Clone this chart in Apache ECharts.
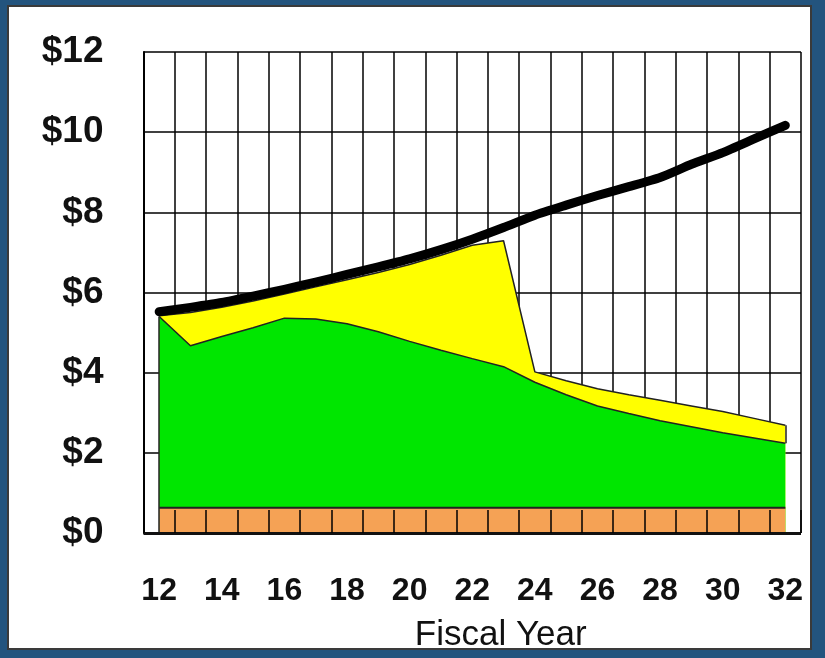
<!DOCTYPE html>
<html>
<head>
<meta charset="utf-8">
<script src="https://cdn.jsdelivr.net/npm/echarts@6/dist/echarts.min.js"></script>
<style>
  html, body { margin: 0; padding: 0; width: 825px; height: 658px; background: #23547e; overflow: hidden; }
  #frame { position: absolute; left: 7px; top: 5px; width: 801px; height: 641px; background: #fff; border: 2px solid #3a3a3a; }
  #chart { position: absolute; left: 0; top: 0; width: 825px; height: 658px; }
</style>
</head>
<body>
<div id="frame"></div>
<div id="chart"></div>
<script>
const years = ['12','13','14','15','16','17','18','19','20','21','22','23','24','25','26','27','28','29','30','31','32'];
const yTickLabels = ['$0','$2','$4','$6','$8','$10','$12'];
const blackLine = [5.52,5.63,5.75,5.91,6.08,6.26,6.45,6.64,6.84,7.07,7.33,7.62,7.93,8.18,8.42,8.64,8.87,9.2,9.49,9.83,10.17];
const yellowTop = [5.42,5.5,5.63,5.79,5.96,6.14,6.32,6.5,6.7,6.93,7.18,7.29,4.02,3.8,3.6,3.45,3.31,3.17,3.03,2.86,2.69];
const greenTop  = [5.4,4.67,4.9,5.12,5.36,5.34,5.22,5.02,4.78,4.56,4.35,4.15,3.76,3.45,3.17,2.98,2.8,2.65,2.5,2.37,2.24];
const orangeTop = [0.63,0.63,0.63,0.63,0.63,0.63,0.63,0.63,0.63,0.63,0.63,0.63,0.63,0.63,0.63,0.63,0.63,0.63,0.63,0.63,0.63];

const chart = echarts.init(document.getElementById('chart'));
const edge = { color: '#222', width: 1.5 };
const last = years.length - 1;
chart.setOption({
  backgroundColor: 'transparent',
  animation: false,
  grid: { left: 143.5, right: 24, top: 52, bottom: 123 },
  xAxis: [{
    // main axis, shifted 10px down so its ticks cross the baseline
    type: 'category', data: years, boundaryGap: true, position: 'bottom', offset: 10, z: 10,
    axisLine: { show: false },
    axisTick: { show: true, inside: true, interval: 0, length: 23, lineStyle: { color: '#000', width: 1.5 } },
    axisLabel: { interval: 1, margin: 32, fontSize: 32, fontWeight: 'bold', color: '#111',
      fontFamily: '"Liberation Sans", Arial, sans-serif' },
    splitLine: { show: false },
    name: 'Fiscal Year', nameLocation: 'middle', nameGap: 75,
    nameTextStyle: { fontSize: 35, color: '#111', fontFamily: '"Liberation Sans", Arial, sans-serif', padding: [0, 0, 0, 57] }
  }, {
    // vertical grid lines behind the areas
    type: 'category', data: years, boundaryGap: true, position: 'top', z: 0,
    axisLine: { show: false }, axisTick: { show: false }, axisLabel: { show: false },
    splitLine: { show: true, interval: 0, lineStyle: { color: '#000', width: 1.5 } }
  }],
  yAxis: {
    type: 'value', min: 0, max: 12, interval: 2,
    axisLine: { show: true, lineStyle: { color: '#000', width: 2 } },
    axisTick: { show: false },
    axisLabel: { margin: 40, fontSize: 37, fontWeight: 'bold', color: '#111',
      fontFamily: '"Liberation Sans", Arial, sans-serif',
      formatter: (v) => yTickLabels[v / 2] },
    splitLine: { show: true, lineStyle: { color: '#000', width: 1.5 } }
  },
  series: [
    { name: 'yellow', type: 'line', data: yellowTop, symbol: 'none', z: 2,
      lineStyle: edge, areaStyle: { color: '#ffff00', opacity: 1 },
      markLine: { silent: true, symbol: 'none', label: { show: false }, lineStyle: { color: '#222', width: 1.5, type: 'solid' },
        data: [[{ coord: [last, greenTop[last]] }, { coord: [last, yellowTop[last]] }]] } },
    { name: 'green', type: 'line', data: greenTop, symbol: 'none', z: 3,
      lineStyle: edge, areaStyle: { color: '#00e600', opacity: 1 },
      markLine: { silent: true, symbol: 'none', label: { show: false }, lineStyle: { color: '#222', width: 1.5, type: 'solid' },
        data: [[{ coord: [0, 0] }, { coord: [0, greenTop[0]] }]] } },
    { name: 'orange', type: 'line', data: orangeTop, symbol: 'none', z: 4,
      lineStyle: { color: '#222', width: 2 }, areaStyle: { color: '#f5a255', opacity: 1 },
      markLine: { silent: true, symbol: 'none', label: { show: false }, lineStyle: { color: '#111', width: 3, type: 'solid' },
        data: [{ yAxis: 0 }] } },
    { name: 'total', type: 'line', data: blackLine, symbol: 'none', z: 6, smooth: 0.2,
      lineStyle: { color: '#000', width: 9, cap: 'round', join: 'round' } }
  ]
});
</script>
</body>
</html>
